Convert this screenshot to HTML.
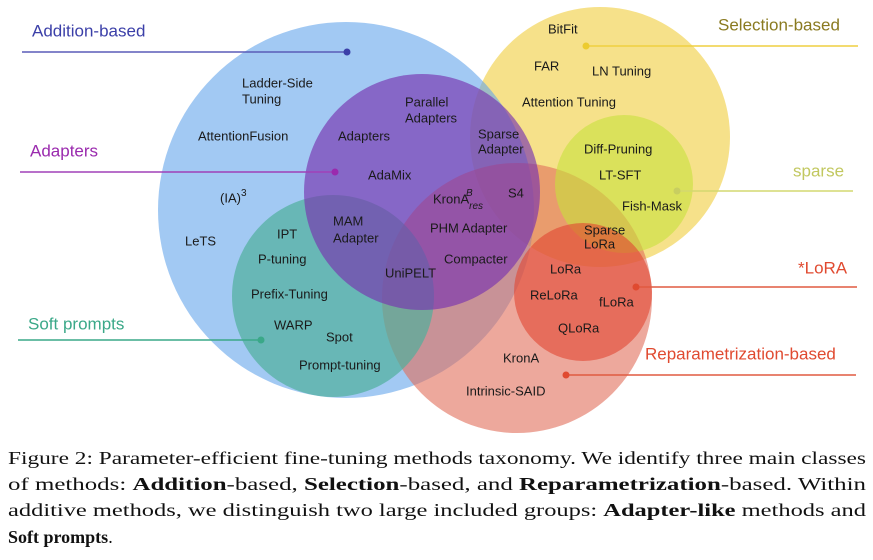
<!DOCTYPE html>
<html><head><meta charset="utf-8"><style>
html,body{margin:0;padding:0;background:#fff;}
svg{display:block;}
.l{font-family:"Liberation Sans",sans-serif;font-size:13px;fill:#1a1a1a;dominant-baseline:middle;}
.h{font-family:"Liberation Sans",sans-serif;font-size:17px;dominant-baseline:middle;}
.c{font-family:"Liberation Serif",serif;font-size:18px;fill:#111;}
.b{font-weight:bold;}
</style></head><body>
<svg width="873" height="560" viewBox="0 0 873 560" xmlns="http://www.w3.org/2000/svg">
<circle cx="600" cy="137" r="130" fill="rgb(240,205,60)" fill-opacity="0.6"/>
<circle cx="346" cy="210" r="188" fill="rgb(100,165,235)" fill-opacity="0.6"/>
<circle cx="517" cy="298" r="135" fill="rgb(225,110,90)" fill-opacity="0.6"/>
<circle cx="333" cy="296" r="101" fill="rgb(80,175,155)" fill-opacity="0.7"/>
<circle cx="624" cy="184" r="69" fill="rgb(200,225,60)" fill-opacity="0.6"/>
<circle cx="583" cy="292" r="69" fill="rgb(225,70,50)" fill-opacity="0.6"/>
<circle cx="422" cy="192" r="118" fill="rgb(120,50,175)" fill-opacity="0.65"/>

<g stroke-width="1.5">
<line x1="22" y1="52" x2="347" y2="52" stroke="#5a5cb8"/><circle cx="347" cy="52" r="3.5" fill="#3b3fa8"/>
<line x1="20" y1="172" x2="335" y2="172" stroke="#a040b8"/><circle cx="335" cy="172" r="3.5" fill="#9a2aae"/>
<line x1="18" y1="340" x2="261" y2="340" stroke="#3aa888"/><circle cx="261" cy="340" r="3.5" fill="#3aa888"/>
<line x1="586" y1="46" x2="858" y2="46" stroke="#efcf40"/><circle cx="586" cy="46" r="3.5" fill="#eccb30"/>
<line x1="677" y1="191" x2="853" y2="191" stroke="#d3d870"/><circle cx="677" cy="191" r="3.5" fill="#c8ce60"/>
<line x1="636" y1="287" x2="857" y2="287" stroke="#e05a40"/><circle cx="636" cy="287" r="3.5" fill="#e04a30"/>
<line x1="566" y1="375" x2="856" y2="375" stroke="#e05a40"/><circle cx="566" cy="375" r="3.5" fill="#e04a30"/>
</g>

<text class="h" x="32" y="32" fill="#3b3fa8">Addition-based</text>
<text class="h" x="30" y="152" fill="#9a2aae">Adapters</text>
<text class="h" x="28" y="325" fill="#3aa888">Soft prompts</text>
<text class="h" x="718" y="26" fill="#8a7a20">Selection-based</text>
<text class="h" x="793" y="172" fill="#c2c860">sparse</text>
<text class="h" x="798" y="269" fill="#e04a30">*LoRA</text>
<text class="h" x="645" y="355" fill="#e04a30">Reparametrization-based</text>

<text class="l" x="242" y="84">Ladder-Side</text>
<text class="l" x="242" y="100">Tuning</text>
<text class="l" x="198" y="137">AttentionFusion</text>
<text class="l" x="338" y="137">Adapters</text>
<text class="l" x="405" y="103">Parallel</text>
<text class="l" x="405" y="119">Adapters</text>
<text class="l" x="368" y="176">AdaMix</text>
<text class="l" x="220" y="199">(IA)<tspan dy="-6" font-size="10">3</tspan></text>
<text class="l" x="185" y="242">LeTS</text>
<text class="l" x="277" y="235">IPT</text>
<text class="l" x="258" y="260">P-tuning</text>
<text class="l" x="333" y="222">MAM</text>
<text class="l" x="333" y="239">Adapter</text>
<text class="l" x="385" y="274">UniPELT</text>
<text class="l" x="251" y="295">Prefix-Tuning</text>
<text class="l" x="274" y="326">WARP</text>
<text class="l" x="326" y="338">Spot</text>
<text class="l" x="299" y="366">Prompt-tuning</text>

<text class="l" x="548" y="30">BitFit</text>
<text class="l" x="534" y="67">FAR</text>
<text class="l" x="592" y="72">LN Tuning</text>
<text class="l" x="522" y="103">Attention Tuning</text>
<text class="l" x="478" y="135">Sparse</text>
<text class="l" x="478" y="150">Adapter</text>
<text class="l" x="584" y="150">Diff-Pruning</text>
<text class="l" x="599" y="176">LT-SFT</text>
<text class="l" x="622" y="207">Fish-Mask</text>
<text class="l" x="433" y="200">KronA<tspan dy="6" font-size="10" font-style="italic">res</tspan><tspan dx="-17" dy="-13" font-size="10" font-style="italic">B</tspan></text>
<text class="l" x="508" y="194">S4</text>
<text class="l" x="430" y="229">PHM Adapter</text>
<text class="l" x="444" y="260">Compacter</text>
<text class="l" x="584" y="231" font-size="11">Sparse</text>
<text class="l" x="584" y="245" font-size="11">LoRa</text>
<text class="l" x="550" y="270">LoRa</text>
<text class="l" x="530" y="296">ReLoRa</text>
<text class="l" x="599" y="303">fLoRa</text>
<text class="l" x="558" y="329">QLoRa</text>
<text class="l" x="503" y="359">KronA</text>
<text class="l" x="466" y="392">Intrinsic-SAID</text>

<text class="c" x="8" y="464" textLength="858" lengthAdjust="spacingAndGlyphs">Figure 2: Parameter-efficient fine-tuning methods taxonomy. We identify three main classes</text>
<text class="c" x="8" y="490" textLength="858" lengthAdjust="spacingAndGlyphs">of methods: <tspan class="b">Addition</tspan>-based, <tspan class="b">Selection</tspan>-based, and <tspan class="b">Reparametrization</tspan>-based. Within</text>
<text class="c" x="8" y="516" textLength="858" lengthAdjust="spacingAndGlyphs">additive methods, we distinguish two large included groups: <tspan class="b">Adapter-like</tspan> methods and</text>
<text class="c" x="8" y="543"><tspan class="b">Soft prompts</tspan>.</text>
</svg>
</body></html>
